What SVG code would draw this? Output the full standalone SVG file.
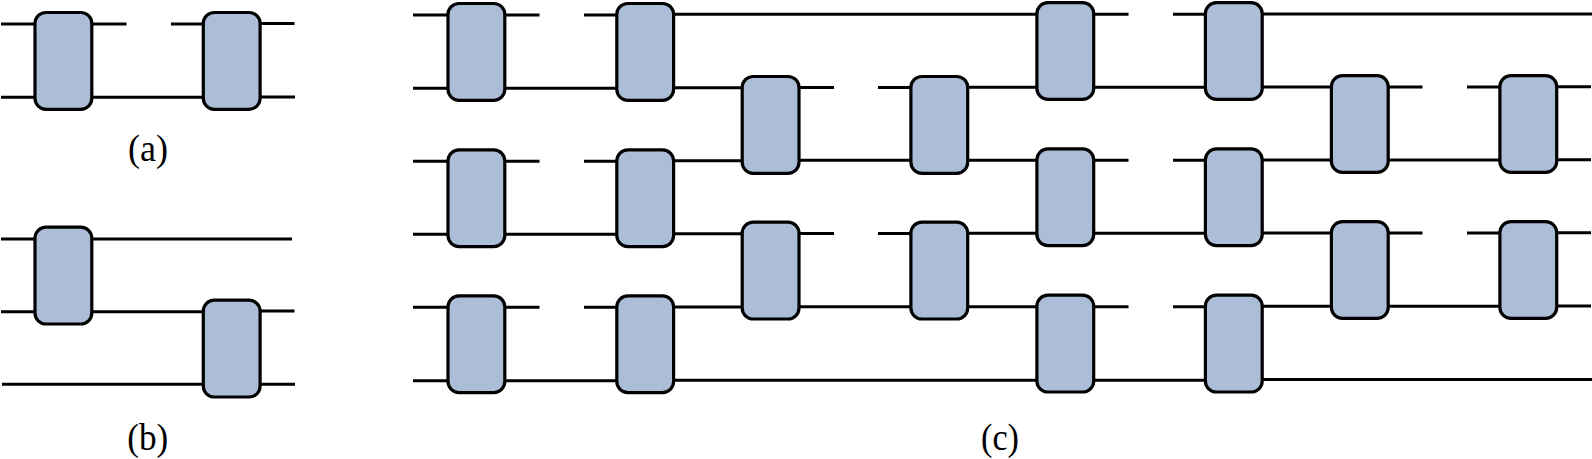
<svg xmlns="http://www.w3.org/2000/svg" width="1592" height="459" viewBox="0 0 1592 459">
<style>
.wire{stroke:#000;stroke-width:2.9;fill:none}
.gate{fill:#abbdd7;stroke:#000;stroke-width:3.2}
.cap{font-family:"Liberation Serif","Times New Roman",serif;font-size:38px;fill:#000;text-anchor:middle}
</style>
<defs><rect id="g" class="gate" width="56.8" height="96.8" rx="11" ry="11"/></defs>
<rect width="1592" height="459" fill="#fff"/>
<g id="connectors" class="wire">
<!-- panel a -->
<path d="M1 24H35M92 24H126.5M171 24H204M260 23.5H294.5M1 97.3H35M92 97.3H204M260 97H295"/>
<!-- panel b -->
<path d="M1 239H292M1 311.7H204M260 311H294.5M2 384.3H204M260 384.3H295"/>
<!-- panel c: ahead of the third column -->
<path d="M413 15H449M505 15H539.5M584 15H618M674 14.3H1037M413 88.3H618M674 87.7H743M413 161.3H449M505 161.3H539.5M584 161.3H618M674 160.7H743M413 234.3H618M674 233.7H743M413 307.3H449M505 307.3H539.5M584 307.3H618M674 307H743M413 380.7H618M674 380.3H1037"/>
<!-- panel c: third to sixth column -->
<path d="M799 87.5H834M878 87.5H912M799 160.3H912M799 233.5H834M878 233.5H912M799 306.7H912M968 87.3H1037M968 160.3H1037M968 233.3H1037M968 306.7H1037"/>
<path d="M1094 14.3H1128.5M1173 14.3H1206M1094 87.3H1206M1094 160.3H1128.5M1173 160.3H1206M1094 233.3H1206M1094 306.7H1128.5M1173 306.7H1206M1094 380.3H1206"/>
<!-- panel c: outgoing lines -->
<path d="M1262 14H1592M1262 87H1332M1388 87H1422.5M1467 87H1501M1557 86.7H1591M1262 160H1332M1388 160H1501M1557 159.7H1591M1262 233H1332M1388 233H1422.5M1467 233H1501M1557 232.7H1591M1262 306.3H1332M1388 306.3H1501M1557 306H1591M1262 379.5H1592"/>
</g>
<g id="a1"><use href="#g" x="35" y="12.5"/></g>
<g id="a2"><use href="#g" x="203.3" y="12.5"/></g>
<g id="b1"><use href="#g" x="35" y="227.2"/></g>
<g id="b2"><use href="#g" x="203.3" y="300.2"/></g>
<g id="c11"><use href="#g" x="448" y="3.5"/></g>
<g id="c12"><use href="#g" x="448" y="149.8"/></g>
<g id="c13"><use href="#g" x="448" y="295.8"/></g>
<g id="c21"><use href="#g" x="616.8" y="3.5"/></g>
<g id="c22"><use href="#g" x="616.8" y="149.8"/></g>
<g id="c23"><use href="#g" x="616.8" y="295.8"/></g>
<g id="c31"><use href="#g" x="742.2" y="76.5"/></g>
<g id="c32"><use href="#g" x="742.2" y="222.2"/></g>
<g id="c41"><use href="#g" x="910.9" y="76.5"/></g>
<g id="c42"><use href="#g" x="910.9" y="222.2"/></g>
<g id="c51"><use href="#g" x="1036.9" y="2.6"/></g>
<g id="c52"><use href="#g" x="1036.9" y="148.8"/></g>
<g id="c53"><use href="#g" x="1036.9" y="295.2"/></g>
<g id="c61"><use href="#g" x="1205.4" y="2.6"/></g>
<g id="c62"><use href="#g" x="1205.4" y="148.8"/></g>
<g id="c63"><use href="#g" x="1205.4" y="295.2"/></g>
<g id="c71"><use href="#g" x="1331.4" y="75.6"/></g>
<g id="c72"><use href="#g" x="1331.4" y="221.6"/></g>
<g id="c81"><use href="#g" x="1499.9" y="75.6"/></g>
<g id="c82"><use href="#g" x="1499.9" y="221.6"/></g>
<text class="cap" x="148" y="161" textLength="40" lengthAdjust="spacingAndGlyphs">(a)</text>
<text class="cap" x="147.7" y="450" textLength="41" lengthAdjust="spacingAndGlyphs">(b)</text>
<text class="cap" x="1000" y="450" textLength="38" lengthAdjust="spacingAndGlyphs">(c)</text>
</svg>
